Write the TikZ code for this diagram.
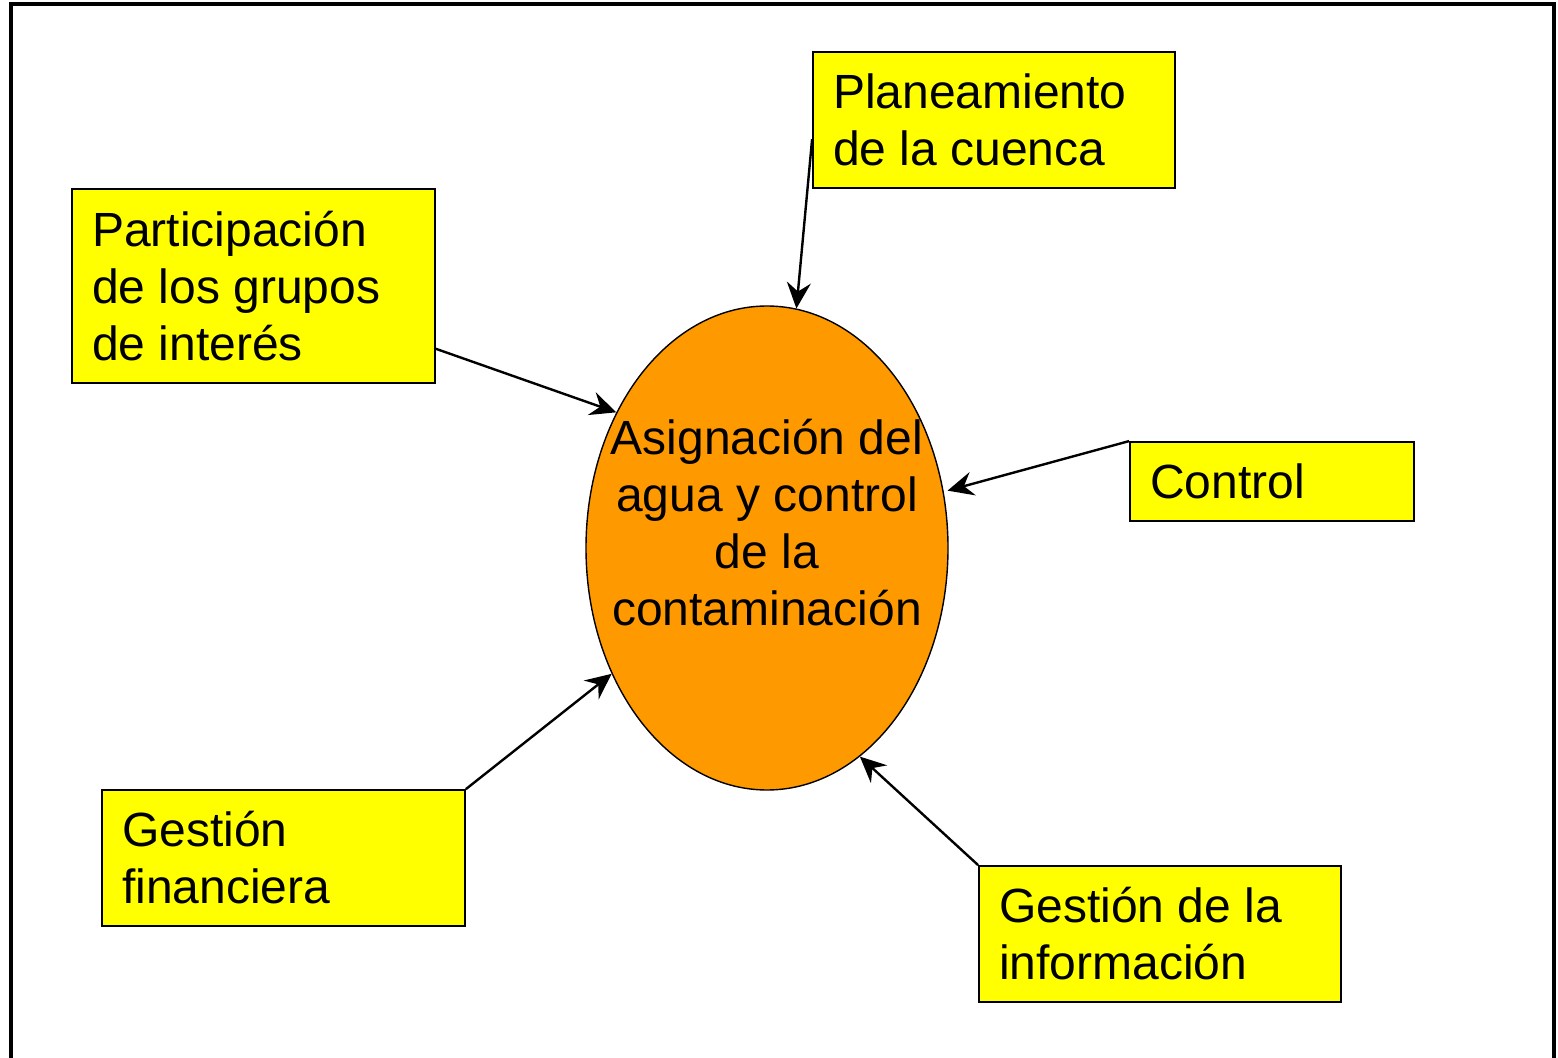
\documentclass[tikz,border=0pt]{standalone}
\usepackage{fontspec}
\setmainfont{Liberation Sans}
\usetikzlibrary{shapes.geometric,arrows.meta}
\definecolor{boxyellow}{HTML}{FFFF00}
\definecolor{ellorange}{HTML}{FF9900}
\tikzset{
  txt/.style={font=\fontsize{24}{28.5}\selectfont},
  ybox/.style={draw=black, line width=0.9pt, fill=boxyellow, txt, align=left,
    inner xsep=10pt, inner ysep=0pt, anchor=center,
    execute at begin node={\spaceskip=\fontdimen2\font\relax}},
  conn/.style={line width=1.2pt, -{Stealth[length=13pt,width=12pt,inset=4.5pt]}},
  frame/.style={line width=2pt}
}
\begin{document}
\begin{tikzpicture}[x=0.5pt,y=-0.5pt]
\useasboundingbox (0,0) rectangle (1558,1058);
\draw[frame] (11,1060) -- (11,4) -- (1553.5,4) -- (1553.5,1060);
\node[ellipse, draw=black, line width=0.7pt, fill=ellorange, inner sep=0pt,
  minimum width=181pt, minimum height=242pt] (ell) at (767,548) {};
\node[txt, align=center, inner sep=0pt] (elltext) at (767,523)
  {Asignación del\\agua y control\\de la\\contaminación};
\node[ybox, minimum width=181pt, minimum height=68pt, text width=161pt] (plan) at (994,120)
  {Planeamiento\\de la cuenca};
\node[ybox, minimum width=181.5pt, minimum height=97pt, text width=161.5pt] (part) at (253.5,286)
  {Participación\\de los grupos\\de interés};
\node[ybox, minimum width=142pt, minimum height=39.5pt, text width=122pt] (ctrl) at (1272,481.5)
  {Control};
\node[ybox, minimum width=181.5pt, minimum height=68pt, text width=161.5pt] (fin) at (283.5,858)
  {Gestión\\financiera};
\node[ybox, minimum width=181pt, minimum height=68pt, text width=161pt] (info) at (1160,934)
  {Gestión de la\\información};
\draw[conn] (plan.186) -- (ell.83);
\draw[conn] (part.-19.7) -- (ell.138);
\draw[conn] (ctrl.north west) -- ([xshift=2pt]ell.18);
\draw[conn] (fin.north east) -- (ell.219.5);
\draw[conn] (info.north west) -- (ell.-66);
\end{tikzpicture}
\end{document}
